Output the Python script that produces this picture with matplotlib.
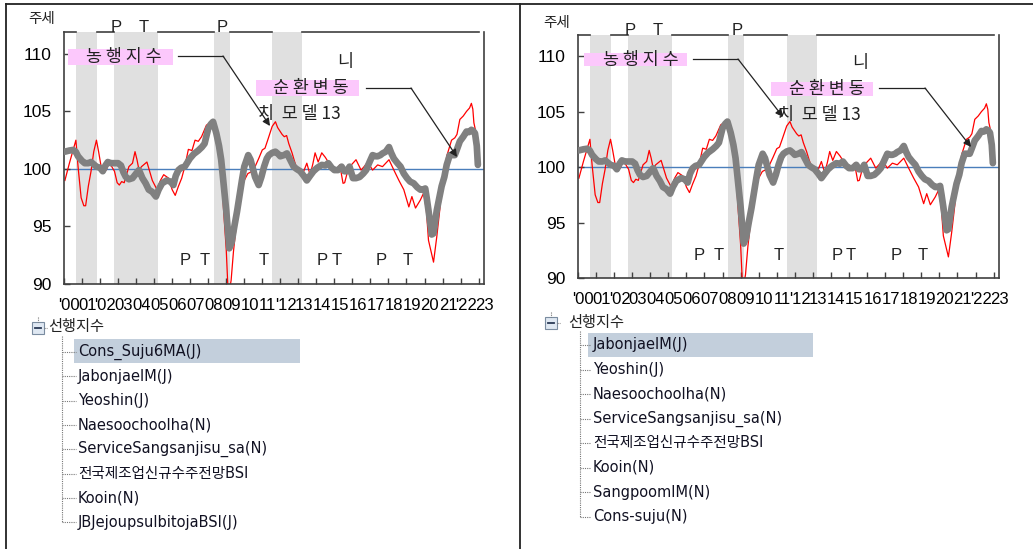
import matplotlib
matplotlib.use("Agg")
import matplotlib.pyplot as plt
from matplotlib.patches import Rectangle, FancyArrowPatch
from matplotlib.lines import Line2D

plt.rcParams['font.family'] = ['Noto Sans CJK KR', 'DejaVu Sans']

# 동행지수 (red, thin)
red_x = [2000.05, 2000.3, 2000.66, 2000.78, 2000.95, 2001.1, 2001.2, 2001.35, 2001.5, 2001.65,
         2001.8, 2001.92, 2002.06, 2002.34, 2002.5, 2002.65, 2002.8, 2002.95, 2003.07, 2003.2,
         2003.34, 2003.6, 2003.8, 2003.94, 2004.05, 2004.16, 2004.3, 2004.45, 2004.6, 2004.75,
         2004.9, 2005.16, 2005.35, 2005.53, 2005.8, 2006.0, 2006.17, 2006.35, 2006.53, 2006.7,
         2006.9, 2007.1, 2007.27, 2007.45, 2007.63, 2007.9, 2008.18, 2008.45, 2008.6, 2008.72,
         2008.85, 2009.0, 2009.09, 2009.18, 2009.27, 2009.4, 2009.55, 2009.7, 2009.82, 2010.0,
         2010.2, 2010.45, 2010.6, 2010.8, 2011.0, 2011.15, 2011.3, 2011.55, 2011.73, 2011.85,
         2012.0, 2012.1, 2012.22, 2012.35, 2012.47, 2012.65, 2012.8, 2012.92, 2013.1, 2013.3,
         2013.47, 2013.65, 2013.8, 2013.93, 2014.1, 2014.3, 2014.5, 2014.66, 2014.93, 2015.1,
         2015.3, 2015.48, 2015.57, 2015.75, 2015.94, 2016.2, 2016.48, 2016.65, 2016.85, 2017.12,
         2017.4, 2017.67, 2017.85, 2018.03, 2018.3, 2018.58, 2018.85, 2019.13, 2019.3, 2019.5,
         2019.77, 2019.95, 2020.1, 2020.22, 2020.5, 2020.68, 2020.85, 2020.95, 2021.1, 2021.23,
         2021.5, 2021.68, 2021.8, 2021.96, 2022.15, 2022.33, 2022.5, 2022.6, 2022.68, 2022.74,
         2022.85, 2022.96]
red_y = [99.0, 100.5, 102.5, 100.2, 97.5, 96.8, 96.8, 98.5, 99.8, 101.5,
         102.5, 101.5, 100.2, 99.9, 100.5, 100.2, 99.8, 98.8, 98.6, 98.9,
         98.8, 100.2, 100.5, 101.5, 100.8, 99.9, 100.2, 100.4, 100.6, 99.8,
         99.0, 98.2, 99.0, 99.5, 99.2, 98.2, 97.7, 98.5, 99.2, 100.2,
         101.7, 101.6, 102.5, 102.4, 102.8, 103.8, 104.1, 103.4, 102.0, 100.2,
         96.5, 93.0, 89.8, 89.5, 90.3, 92.8, 95.0, 96.8, 98.2, 99.0,
         99.6, 99.8, 100.2, 100.9, 101.65, 101.8, 102.5, 103.7, 104.1, 103.6,
         103.25, 103.0, 102.8, 102.9, 102.2, 101.4, 100.6, 100.05, 99.6, 99.8,
         100.5, 99.5, 100.4, 101.4, 100.6, 101.4, 101.0, 100.6, 99.9, 99.9,
         100.35, 98.75, 98.8, 99.9, 100.35, 100.8, 99.9, 100.2, 100.6, 99.9,
         100.35, 100.2, 100.5, 100.8, 99.9, 99.0, 98.2, 96.7, 97.6, 96.6,
         97.3, 97.9, 96.5, 93.8, 91.9, 94.1, 96.5, 98.2, 99.5, 101.1,
         102.5, 102.7, 103.0, 104.3, 104.6, 105.0, 105.3, 105.7, 105.2, 104.0,
         103.2, 102.5]

# 순환변동치 모델13 (gray, thick)
gray_x = [2000.05, 2000.3, 2000.5, 2000.65, 2000.78, 2001.0, 2001.15, 2001.35, 2001.5, 2001.65,
          2001.8, 2002.0, 2002.15, 2002.3, 2002.43, 2002.6, 2002.8, 2003.0, 2003.16, 2003.3,
          2003.43, 2003.6, 2003.8, 2004.0, 2004.16, 2004.35, 2004.53, 2004.7, 2004.9, 2005.1,
          2005.25, 2005.44, 2005.7, 2005.9, 2006.07, 2006.2, 2006.35, 2006.5, 2006.7, 2006.98,
          2007.2, 2007.45, 2007.65, 2007.8, 2008.0, 2008.15, 2008.27, 2008.45, 2008.6, 2008.72,
          2008.85, 2009.0, 2009.17, 2009.3, 2009.45, 2009.6, 2009.73, 2009.87, 2010.0, 2010.22,
          2010.35, 2010.45, 2010.6, 2010.8, 2010.95, 2011.1, 2011.25, 2011.37, 2011.55, 2011.73,
          2011.88, 2012.0, 2012.2, 2012.37, 2012.55, 2012.74, 2012.9, 2013.1, 2013.3, 2013.47,
          2013.65, 2013.84, 2014.05, 2014.3, 2014.5, 2014.66, 2014.85, 2015.0, 2015.2, 2015.4,
          2015.55, 2015.7, 2015.84, 2016.03, 2016.2, 2016.4, 2016.6, 2016.76, 2016.95, 2017.12,
          2017.3, 2017.4, 2017.55, 2017.67, 2017.85, 2018.03, 2018.15, 2018.3, 2018.5, 2018.67,
          2018.85, 2019.03, 2019.2, 2019.4, 2019.6, 2019.77, 2019.9, 2020.04, 2020.12, 2020.22,
          2020.4, 2020.5, 2020.68, 2020.82, 2020.95, 2021.1, 2021.23, 2021.4, 2021.55, 2021.68,
          2021.8, 2021.96, 2022.15, 2022.33, 2022.47, 2022.6, 2022.7, 2022.8, 2022.9, 2022.96]
gray_y = [101.5, 101.6, 101.65, 101.5, 101.1, 100.7, 100.5, 100.5, 100.6, 100.4,
          100.2, 100.1, 99.8, 100.3, 100.6, 100.5, 100.5, 100.5, 100.3, 99.7,
          99.3, 99.1, 99.2, 99.6, 99.9, 99.2, 98.75, 98.2, 98.0, 97.6,
          98.2, 98.75, 99.0, 98.9, 98.6, 99.4, 99.9, 100.1, 100.2, 100.9,
          101.3, 101.6, 101.9, 102.2, 103.5, 103.9, 104.1, 103.1, 102.0, 100.8,
          98.8, 96.4, 93.1, 93.6, 95.0, 96.3, 97.6, 99.0, 100.2, 101.2,
          100.8, 100.2, 99.3, 98.6, 99.3, 100.2, 100.9, 101.2, 101.4, 101.5,
          101.3, 101.1, 101.2, 101.35, 100.8, 100.2, 100.0, 99.8, 99.4, 99.0,
          99.4, 99.8, 100.1, 100.35, 100.3, 100.5, 100.1, 99.9, 99.9, 100.2,
          99.8, 99.8, 100.2, 99.2, 99.2, 99.3, 99.6, 99.9, 100.6, 101.2,
          101.1, 101.1, 101.2, 101.35, 101.5, 101.9, 101.4, 100.9, 100.5, 100.2,
          99.6, 99.2, 98.9, 98.75, 98.4, 98.2, 98.2, 98.3, 97.5, 96.4,
          94.3, 94.4, 96.4, 97.5, 98.5, 99.3, 100.35, 101.2, 101.2, 101.2,
          101.7, 102.4, 102.8, 103.25, 103.2, 103.4, 103.3, 103.1, 102.0, 100.35]

# contraction periods (gray bands) and turning-point labels
bands = [(2000.69, 2001.82), (2002.79, 2005.2), (2008.32, 2009.2), (2011.55, 2013.2)]
top_marks = [("P", 2002.9), ("T", 2004.4), ("P", 2008.8)]
bottom_marks = [("P", 2006.7), ("T", 2007.8), ("T", 2011.1), ("P", 2014.35),
                ("T", 2015.1), ("P", 2017.6), ("T", 2019.05)]

years = list(range(2000, 2024))
year_labels = ["'00", "01", "'02", "03", "04", "05", "06", "07", "08", "09", "10", "11",
               "'12", "13", "14", "15", "16", "17", "18", "19", "20", "21", "'22", "23"]
y_ticks = [90, 95, 100, 105, 110]

tree_root = "선행지수"
left_items = ["Cons_Suju6MA(J)", "JabonjaeIM(J)", "Yeoshin(J)", "Naesoochoolha(N)",
              "ServiceSangsanjisu_sa(N)", "전국제조업신규수주전망BSI", "Kooin(N)",
              "JBJejoupsulbitojaBSI(J)"]
right_items = ["JabonjaeIM(J)", "Yeoshin(J)", "Naesoochoolha(N)", "ServiceSangsanjisu_sa(N)",
               "전국제조업신규수주전망BSI", "Kooin(N)", "SangpoomIM(N)", "Cons-suju(N)"]

W, H = 1033, 549
fig = plt.figure(figsize=(W / 100, H / 100), dpi=100)
fig.patch.set_facecolor('white')


def fx(x):
    return x / W


def fy(y):
    return 1 - y / H


def hline(x0, x1, y, **kw):
    fig.add_artist(Line2D([fx(x0), fx(x1)], [fy(y), fy(y)], **kw))


def vline(x, y0, y1, **kw):
    fig.add_artist(Line2D([fx(x), fx(x)], [fy(y0), fy(y1)], **kw))


def draw_panel(p, items):
    l, t, r, b = p['axes']
    ax = fig.add_axes([fx(l), fy(b), (r - l) / W, (b - t) / H])
    ax.set_xlim(2000, 2023)
    ax.set_ylim(90, 111.9)
    for a, c in bands:
        ax.axvspan(a, c, color='#e0e0e0', lw=0, zorder=0)
    ax.axhline(100, color='#4a7ebb', lw=1.0, zorder=1)
    ax.plot(red_x, red_y, color='#ff0000', lw=0.9, zorder=2)
    ax.plot(gray_x, gray_y, color='#808080', lw=4.8, zorder=3,
            solid_joinstyle='round', solid_capstyle='round')

    for s in ['left', 'bottom', 'right']:
        ax.spines[s].set_color('#404040')
        ax.spines[s].set_linewidth(1.2)
    ax.spines['top'].set_visible(False)
    # top frame only outside the shaded bands
    edges = [2000] + [v for ab in bands for v in ab] + [2023]
    trans = ax.get_xaxis_transform()
    for i in range(0, len(edges), 2):
        ax.plot([edges[i], edges[i + 1]], [1, 1], color='#404040', lw=1.2,
                transform=trans, clip_on=False, zorder=4)

    ax.set_yticks(y_ticks)
    ax.set_yticklabels([str(v) for v in y_ticks], family='Liberation Sans', fontsize=12.5)
    ax.set_xticks(years)
    ax.set_xticklabels([])
    ax.set_xticks([y + 0.3 for y in years], minor=True)
    ax.set_xticklabels(year_labels, minor=True, family='Liberation Sans', fontsize=12)
    ax.tick_params(axis='both', which='major', direction='in', length=4, width=1,
                   color='#404040', pad=9)
    ax.tick_params(axis='x', which='minor', length=0, pad=10)
    ax.tick_params(axis='x', which='major', pad=10)

    for s, xv in top_marks:
        ax.text(xv, 1.018, s, transform=trans, ha='center', va='center', fontsize=12,
                family='Liberation Sans', color='#222222', zorder=5)
    for s, xv in bottom_marks:
        ax.text(xv, 92.0, s, ha='center', va='center', fontsize=12,
                family='Liberation Sans', color='#222222', zorder=5)

    # texts and callouts (figure pixels)
    fig.text(fx(p['title'][0]), fy(p['title'][1]), "주세", ha='center', va='center',
             fontsize=10.5, color='#222222')
    for key, label in [('box1', "농 행 지 수"), ('box2', "순 환 변 동")]:
        x0, y0, x1, y1, tx, ty = p[key]
        fig.add_artist(Rectangle((fx(x0), fy(y1)), (x1 - x0) / W, (y1 - y0) / H,
                                 transform=fig.transFigure, fc='#fcc8fc', ec='none'))
        fig.text(fx(tx), fy(ty), label, ha='center', va='center', fontsize=12.5,
                 color='#222222')
    for key in ['arrow1', 'arrow2']:
        x0, x1, yy, ax_, ay_ = p[key]
        hline(x0, x1, yy, color='#222222', lw=0.9)
        fig.add_artist(FancyArrowPatch((fx(x1), fy(yy)), (fx(ax_), fy(ay_)),
                                       transform=fig.transFigure, arrowstyle='-|>',
                                       mutation_scale=11, color='#222222', lw=0.9,
                                       shrinkA=0, shrinkB=0))
    fig.text(fx(p['ni'][0]), fy(p['ni'][1]), "니", ha='center', va='center',
             fontsize=12.5, color='#222222')
    fig.text(fx(p['model'][0]), fy(p['model'][1]), "치  모 델 13", ha='left', va='center',
             fontsize=12.5, color='#222222')

    # tree view
    ix, iy = p['icon']
    fig.add_artist(Rectangle((fx(ix), fy(iy + 12)), 12 / W, 12 / H,
                             transform=fig.transFigure, fc='#dfe8f2', ec='#7a8ca0', lw=0.8))
    hline(ix + 3, ix + 9, iy + 6, color='#2a3a55', lw=1.3)
    vline(ix + 6, iy - 5, iy, color='#777777', lw=0.8, ls=(0, (1, 1)))
    hline(ix + 12, ix + 15, iy + 6, color='#777777', lw=0.8, ls=(0, (1, 1)))
    fig.text(fx(p['root'][0]), fy(p['root'][1]), tree_root, ha='left', va='center',
             fontsize=11, color='#222222')
    vx = p['vline']
    hx0, hy0, hx1, hy1 = p['sel']
    fig.add_artist(Rectangle((fx(hx0), fy(hy1)), (hx1 - hx0) / W, (hy1 - hy0) / H,
                             transform=fig.transFigure, fc='#c3cfdc', ec='none'))
    tx, ty0, dy = p['items']
    last_y = ty0 + dy * (len(items) - 1)
    vline(vx, iy + 14, last_y, color='#777777', lw=0.8, ls=(0, (1, 1)))
    for k, name in enumerate(items):
        yk = ty0 + dy * k
        hline(vx, tx - 2, yk, color='#777777', lw=0.8, ls=(0, (1, 1)))
        fig.text(fx(tx), fy(yk), name, ha='left', va='center', fontsize=10.5,
                 family=['DejaVu Sans', 'Noto Sans CJK KR'], color='#111122')


left_panel = dict(axes=(64, 32, 484, 284), title=(42, 19),
                  box1=(68, 49, 173, 65, 124, 57), arrow1=(178, 223, 56, 270, 126),
                  box2=(256, 80, 359, 96, 311, 88), arrow2=(366, 411, 88, 457, 157),
                  ni=(345, 62), model=(258, 114),
                  icon=(32, 322), root=(48, 327), vline=62, sel=(74, 339, 300, 363),
                  items=(78, 352, 24.3))
right_panel = dict(axes=(578, 35, 999, 278), title=(557, 23),
                   box1=(584, 53, 687, 66, 641, 60), arrow1=(693, 738, 59, 783, 117),
                   box2=(771, 82, 873, 96, 827, 89), arrow2=(879, 925, 88, 971, 147),
                   ni=(860, 63), model=(778, 115),
                   icon=(545, 317), root=(568, 322), vline=580, sel=(588, 333, 813, 357),
                   items=(593, 345, 24.5))

draw_panel(left_panel, left_items)
draw_panel(right_panel, right_items)

# outer frame
hline(6, 1033, 4, color='#222222', lw=1.3)
vline(6, 4, 549, color='#222222', lw=1.3)
vline(520, 4, 549, color='#222222', lw=1.3)

fig.savefig("out.png", dpi=100)
